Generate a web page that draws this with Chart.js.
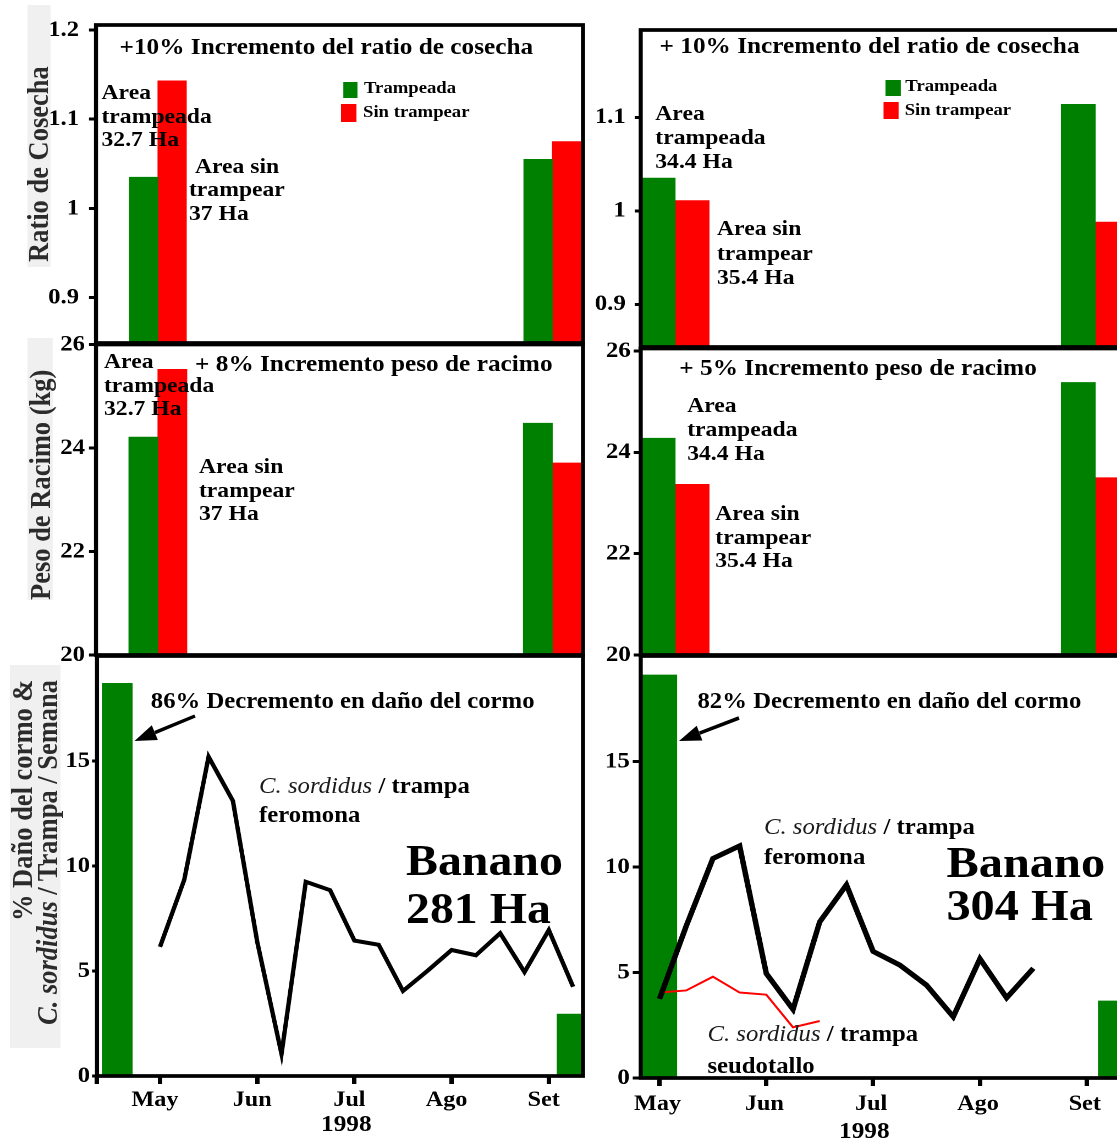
<!DOCTYPE html>
<html lang="es">
<head>
<meta charset="utf-8">
<title>Trampeo de C. sordidus en banano</title>
<script src="https://cdn.jsdelivr.net/npm/chart.js@4.4.1/dist/chart.umd.min.js"></script>
<style>
  html, body { margin: 0; padding: 0; width: 1117px; height: 1143px; overflow: hidden; background: #fff; }
  #fig { position: absolute; left: 0; top: 0; width: 1046px; height: 1143px; transform: scaleX(1.1); transform-origin: 0 0;
         font-family: "Liberation Serif", "Times New Roman", serif; font-weight: bold; color: #000; }
  .pane { position: absolute; }
  .txt { position: absolute; white-space: nowrap; }
  .txt i { font-weight: normal; color: #1a1a1a; }
  .axt { position: absolute; background: #f0f0f0; }
  .axt div { position: absolute; left: 0; top: 0; right: 0; bottom: 0; writing-mode: vertical-rl; transform: rotate(180deg);
             font-size: 26.5px; color: #2b2b2b; white-space: nowrap; }
  .sq { position: absolute; }
  #arrows { position: absolute; left: 0; top: 0; }
</style>
</head>
<body>
<div id="fig"></div>
<svg id="arrows" width="1117" height="1143"></svg>
<script>
// the whole figure is drawn about 10% wider than its lettering
const SX = 1.1;
const VERDE = "#008000";
const ROJO = "#ff0000";
const FONT = '"Liberation Serif", "Times New Roman", serif';
const FIG = document.getElementById("fig");

//---------------------------------------------------------
// Data
//---------------------------------------------------------
// ratio de cosecha: Banano 281 Ha (left) and 304 Ha (right)
const ratioTrampeada281 = [1.035, 1.055];
const ratioSinTrampear281 = [1.143, 1.075];
const ratioTrampeada304 = [1.035, 1.114];
const ratioSinTrampear304 = [1.011, 0.988];

// peso de racimo (kg)
const pesoTrampeada281 = [24.21, 24.48];
const pesoSinTrampear281 = [25.52, 23.71];
const pesoTrampeada304 = [24.28, 25.38];
const pesoSinTrampear304 = [23.37, 23.5];

// where the two bar groups sit across each bar panel (0 = left edge, 1 = right edge)
const grupoX281 = [0.127, 0.937];
const grupoX304 = [0.069, 0.911];

// tick labels
const ratioTicks = [0.9, 1, 1.1, 1.2];
const pesoTicks = [20, 22, 24, 26];
const danoTicks = [0, 5, 10, 15];
const meses = ["May", "Jun", "Jul", "Ago", "Set"];
const mesX = [0, 1, 2, 3, 4]; // months after May 1998

// % daño del cormo, before and after (x in months after May)
const danoX281 = [-0.44, 4.24];
const dano281 = [18.7, 2.95];
const danoX304 = [0, 4.27];
const dano304 = [19.1, 3.65];

// C. sordidus / trampa / semana
const semanas281 = [0, 0.25, 0.5, 0.75, 1, 1.25, 1.5, 1.75, 2, 2.25, 2.5, 2.75, 3, 3.25, 3.5, 3.75, 4, 4.25];
const feromona281 = [6.15, 9.35, 15.2, 13.1, 6.4, 1.05, 9.25, 8.85, 6.45, 6.25, 4.05, 5.0, 6.0, 5.75, 6.8, 4.95, 6.95, 4.25];
const semanas304 = [0, 0.25, 0.5, 0.75, 1, 1.25, 1.5, 1.75, 2, 2.25, 2.5, 2.75, 3, 3.25, 3.5];
const feromona304 = [3.75, 7.2, 10.4, 11.0, 4.95, 3.25, 7.4, 9.15, 6.0, 5.35, 4.4, 2.9, 5.65, 3.8, 5.2];
const seudotallo304 = [4.05, 4.15, 4.8, 4.05, 3.95, 2.4, 2.7];

//---------------------------------------------------------
// Panel layout (page pixels: left, top, right, bottom)
//---------------------------------------------------------
const PANELS = {
	tl: { canvas: [0, 0, 600, 368], box: [96, 25, 583, 343], min: 0.8492, max: 1.2056, ticks: ratioTicks, tickLen: 7, tickPad: 10 },
	tr: { canvas: [580, 0, 1150, 370], box: [641, 30, 1140, 347], min: 0.8543, max: 1.1935, ticks: ratioTicks, tickLen: 6, tickPad: 9 },
	ml: { canvas: [0, 320, 600, 680], box: [96, 344.5, 583, 655], min: 20, max: 26, ticks: pesoTicks, tickLen: 7, tickPad: 4 },
	mr: { canvas: [580, 325, 1150, 680], box: [641, 348.5, 1140, 655], min: 20, max: 26.05, ticks: pesoTicks, tickLen: 7, tickPad: 3 },
	bl: { canvas: [0, 630, 600, 1143], box: [97, 656, 583, 1076], min: 0, max: 20, ticks: danoTicks, tickLen: 5, tickPad: 2,
		xMin: -0.648, xMax: 4.352, xTicks: [-0.648, 0, 1, 2, 3, 4], xTickPad: 3, xLabelShift: -5 },
	br: { canvas: [580, 630, 1150, 1143], box: [641, 656, 1140, 1078], min: 0, max: 20, ticks: danoTicks, tickLen: 8, tickPad: 3,
		xMin: -0.176, xMax: 4.496, xTicks: [0, 1, 2, 3, 4], xTickPad: 5, xLabelShift: -2 },
};

const tickFont = { family: FONT, weight: "bold", size: 22.5 };

// black box round the plot area
const framePlugin = {
	id: "frame",
	afterDraw(chart) {
		const { ctx, chartArea: a } = chart;
		ctx.save();
		ctx.strokeStyle = "#000";
		ctx.lineWidth = 3.7;
		ctx.strokeRect(a.left, a.top, a.right - a.left, a.bottom - a.top);
		ctx.restore();
	},
};

function makeChart(p, datasets, xScale) {
	const [cl, ct, cr, cb] = p.canvas;
	const [bl, bt, br, bb] = p.box;
	const w = Math.round((cr - cl) / SX);
	const h = cb - ct;
	const wrap = document.createElement("div");
	wrap.className = "pane";
	wrap.style.left = cl / SX + "px";
	wrap.style.top = ct + "px";
	const cv = document.createElement("canvas");
	cv.width = w;
	cv.height = h;
	wrap.appendChild(cv);
	FIG.appendChild(wrap);

	const yw = (bl - cl) / SX;
	const hasX = xScale.display !== false;
	if (hasX) {
		xScale.afterFit = (s) => {
			s.height = cb - bb;
			s.paddingLeft = 0;
			s.paddingRight = 0;
		};
	}
	return new Chart(cv, {
		type: "bar",
		data: { datasets },
		plugins: [framePlugin],
		options: {
			responsive: false,
			animation: false,
			devicePixelRatio: 2,
			layout: { padding: { top: bt - ct, bottom: hasX ? 0 : cb - bb, left: 0, right: w - (br - cl) / SX } },
			plugins: { legend: { display: false }, tooltip: { enabled: false } },
			scales: {
				x: xScale,
				y: {
					type: "linear",
					min: p.min,
					max: p.max,
					afterBuildTicks: (s) => {
						s.ticks = p.ticks.filter((v) => v >= p.min - 1e-9 && v <= p.max + 1e-9).map((v) => ({ value: v }));
					},
					afterFit: (s) => {
						s.width = yw;
						s.paddingTop = 0;
						s.paddingBottom = 0;
					},
					border: { display: false },
					grid: { drawOnChartArea: false, tickLength: p.tickLen / SX, tickWidth: 3, tickColor: "#000", color: "#000" },
					ticks: { color: "#000", padding: p.tickPad / SX, font: tickFont, callback: (v) => String(v) },
				},
			},
		},
	});
}

function barPanel(p, grupoX, trampeada, sinTrampear, thickness) {
	const bt = thickness / SX;
	makeChart(
		p,
		[
			{ label: "Trampeada", data: grupoX.map((x, i) => ({ x, y: trampeada[i] })), backgroundColor: VERDE, barThickness: bt },
			{ label: "Sin trampear", data: grupoX.map((x, i) => ({ x, y: sinTrampear[i] })), backgroundColor: ROJO, barThickness: bt },
		],
		{ type: "linear", display: false, min: 0, max: 1, offset: false }
	);
}

function danoPanel(p, danoX, dano, barW, lines) {
	const datasets = lines.map((l) => ({
		type: "line",
		data: l.x.map((x, i) => ({ x, y: l.y[i] })),
		borderColor: l.color,
		borderWidth: l.width,
		borderJoinStyle: "miter",
		pointRadius: 0,
		tension: 0,
		order: 0,
	}));
	datasets.push({
		type: "bar",
		label: "% Daño del cormo",
		data: danoX.map((x, i) => ({ x, y: dano[i] })),
		backgroundColor: VERDE,
		barThickness: barW / SX,
		order: 1,
	});
	makeChart(p, datasets, {
		type: "linear",
		min: p.xMin,
		max: p.xMax,
		offset: false,
		afterBuildTicks: (s) => {
			s.ticks = p.xTicks.map((v) => ({ value: v }));
		},
		border: { display: false },
		grid: { offset: false, drawOnChartArea: false, tickLength: 8, tickWidth: 4, tickColor: "#000", color: "#000" },
		ticks: {
			color: "#000",
			padding: p.xTickPad,
			labelOffset: p.xLabelShift / SX,
			maxRotation: 0,
			autoSkip: false,
			font: { family: FONT, weight: "bold", size: 22 },
			callback: (v) => {
				const i = mesX.indexOf(v);
				return i >= 0 ? meses[i] : "";
			},
		},
	});
}

//---------------------------------------------------------
// Charts
//---------------------------------------------------------
barPanel(PANELS.tl, grupoX281, ratioTrampeada281, ratioSinTrampear281, 28.5);
barPanel(PANELS.tr, grupoX304, ratioTrampeada304, ratioSinTrampear304, 34);
barPanel(PANELS.ml, grupoX281, pesoTrampeada281, pesoSinTrampear281, 29);
barPanel(PANELS.mr, grupoX304, pesoTrampeada304, pesoSinTrampear304, 34);
danoPanel(PANELS.bl, danoX281, dano281, 30, [{ x: semanas281, y: feromona281, color: "#000", width: 4 }]);
danoPanel(PANELS.br, danoX304, dano304, 34.5, [
	{ x: semanas304, y: feromona304, color: "#000", width: 5 },
	{ x: semanas304.slice(0, seudotallo304.length), y: seudotallo304, color: ROJO, width: 2 },
]);

//---------------------------------------------------------
// Texts (x and cap-top in page pixels)
//---------------------------------------------------------
function label(html, x, capTop, fs, lh) {
	const d = document.createElement("div");
	d.className = "txt";
	d.innerHTML = html;
	d.style.left = x / SX + "px";
	d.style.top = capTop - (lh / 2 - 0.3245 * fs) + "px";
	d.style.fontSize = fs + "px";
	d.style.lineHeight = lh + "px";
	FIG.appendChild(d);
}

function square(color, x1, y1, x2, y2) {
	const d = document.createElement("div");
	d.className = "sq";
	d.style.background = color;
	d.style.left = x1 / SX + "px";
	d.style.top = y1 + "px";
	d.style.width = (x2 - x1) / SX + "px";
	d.style.height = y2 - y1 + "px";
	FIG.appendChild(d);
}

function axisTitle(html, x1, y1, x2, y2, align, pad, lh) {
	const box = document.createElement("div");
	box.className = "axt";
	box.style.left = x1 / SX + "px";
	box.style.top = y1 + "px";
	box.style.width = (x2 - x1) / SX + "px";
	box.style.height = y2 - y1 + "px";
	const t = document.createElement("div");
	t.innerHTML = html;
	t.style.textAlign = align;
	t.style.lineHeight = lh / SX + "px";
	if (align === "start") t.style.paddingTop = pad + "px";
	else t.style.paddingBottom = pad + "px";
	box.appendChild(t);
	FIG.appendChild(box);
}

// top row
label("+10% Incremento del ratio de cosecha", 119.5, 40, 23, 24);
label("Area<br>trampeada<br>32.7 Ha", 101.5, 86, 21.5, 23.5);
label("&nbsp;Area sin<br>trampear<br>37 Ha", 189, 159.3, 21.5, 23.5);
square(VERDE, 343, 82, 358, 97.5);
label("Trampeada", 364, 82, 17, 20);
square(ROJO, 341, 104, 356, 121.5);
label("Sin trampear", 363, 106, 17, 20);

label("+ 10% Incremento del ratio de cosecha", 659.5, 38.3, 23, 24);
label("Area<br>trampeada<br>34.4 Ha", 655.3, 106, 21.5, 24);
label("Area sin<br>trampear<br>35.4 Ha", 717, 221.7, 21.5, 24.5);
square(VERDE, 885.5, 80, 901, 95.7);
label("Trampeada", 905.3, 80, 17, 20);
square(ROJO, 883, 102, 898.5, 119);
label("Sin trampear", 904.7, 104, 17, 20);

// middle row
label("Area<br>trampeada<br>32.7 Ha", 104, 355, 21.5, 23.3);
label("+ 8% Incremento peso de racimo", 195, 356.7, 23, 24);
label("Area sin<br>trampear<br>37 Ha", 199, 460, 21.5, 23.3);

label("+ 5% Incremento peso de racimo", 679.3, 360.7, 23, 24);
label("Area<br>trampeada<br>34.4 Ha", 687.2, 398.3, 21.5, 24);
label("Area sin<br>trampear<br>35.4 Ha", 715.3, 506.7, 21.5, 23.7);

// bottom row
label("86% Decremento en daño del cormo", 150.8, 693.3, 22.5, 24);
label("<i>C. sordidus</i> / trampa<br>feromona", 259, 778.3, 22.5, 29);
label("Banano<br>281 Ha", 406, 846.7, 43.5, 47.7);
label("1998", 321, 1117, 23, 24);

label("82% Decremento en daño del cormo", 697.5, 693.3, 22.5, 24);
label("<i>C. sordidus</i> / trampa<br>feromona", 764, 820, 22.5, 30);
label("Banano<br>304 Ha", 946.4, 848.3, 44, 43.4);
label("<i>C. sordidus</i> / trampa<br>seudotallo", 707.4, 1026.7, 22.5, 31.6);
label("1998", 839, 1124, 23, 24);

// axis titles
axisTitle("Ratio de Cosecha", 27, 5, 51, 267, "start", 5, 24);
axisTitle("Peso de Racimo (kg)", 28, 338, 53, 600, "start", 0, 25);
axisTitle("% Daño del cormo &amp;<br><i>C. sordidus</i> / Trampa / Semana", 9.5, 665, 60.6, 1048, "end", 15, 25);

//---------------------------------------------------------
// Arrows
//---------------------------------------------------------
const svg = document.getElementById("arrows");
function arrow(x1, y1, x2, y2) {
	const ang = Math.atan2(y2 - y1, x2 - x1);
	const L = 22, W = 8;
	const bx = x2 - L * Math.cos(ang), by = y2 - L * Math.sin(ang);
	const px = -Math.sin(ang) * W, py = Math.cos(ang) * W;
	svg.innerHTML +=
		`<line x1="${x1}" y1="${y1}" x2="${bx}" y2="${by}" stroke="#000" stroke-width="3.5"/>` +
		`<polygon points="${x2},${y2} ${bx + px},${by + py} ${bx - px},${by - py}" fill="#000"/>`;
}
arrow(195, 716, 134.5, 741);
arrow(739, 718, 679, 741);
</script>
</body>
</html>
